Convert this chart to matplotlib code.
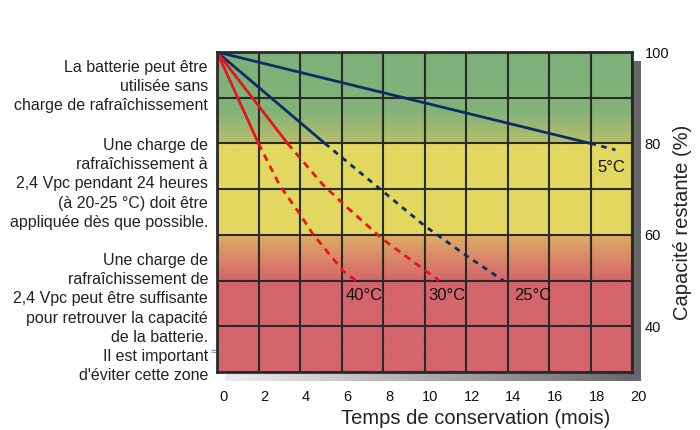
import numpy as np
import matplotlib
matplotlib.use("Agg")
import matplotlib.pyplot as plt
import matplotlib.transforms as mtransforms

plt.rcParams['font.family'] = ['Liberation Sans', 'DejaVu Sans']

# Data
x5_solid, y5_solid = [0, 18], [100, 80]
x5_dash, y5_dash = [18, 19.2], [80, 78.6]
x25_solid, y25_solid = [0, 5.2], [100, 80]
x25_dash, y25_dash = [5.2, 8, 10, 12, 13.8], [80, 69.5, 62, 55.5, 50]
x30_solid, y30_solid = [0, 3.4], [100, 80]
x30_dash, y30_dash = [3.4, 5.1, 6.1, 8, 10.7], [80, 71, 66.7, 59, 50]
x40_solid, y40_solid = [0, 2.0], [100, 80]
x40_dash, y40_dash = [2.0, 3, 4, 4.6, 6.1, 6.7], [80, 71, 64.5, 60.3, 52, 50]

temp_labels = ["5°C", "40°C", "30°C", "25°C"]
temp_label_x = [19.0, 7.1, 11.1, 15.2]
temp_label_y = [74.8, 46.8, 46.8, 46.8]

x_ticks = list(range(0, 21, 2))
y_ticks = [40, 60, 80, 100]

zone_texts = [
    "La batterie peut être\nutilisée sans\ncharge de rafraîchissement",
    "Une charge de\nrafraîchissement à\n2,4 Vpc pendant 24 heures\n(à 20-25 °C) doit être\nappliquée dès que possible.",
    "Une charge de\nrafraîchissement de\n2,4 Vpc peut être suffisante\npour retrouver la capacité\nde la batterie.\nIl est important\nd'éviter cette zone",
]
zone_text_top = [60, 138, 253]  # pixel y of block top

W, H = 700, 430
fig = plt.figure(figsize=(7, 4.3), dpi=100)

l, b, w, h = 217 / W, 1 - 372 / H, 415 / W, 320 / H

# drop shadow
sh = fig.add_axes([l + 8 / W, b - 9 / H, w, h], zorder=0)
grad = np.linspace(0, 1, 256)
g1 = np.array([0.93, 0.93, 0.93])
g2 = np.array([0.40, 0.40, 0.40])
shadow = (g1[None, :] * (1 - grad[:, None]) + g2[None, :] * grad[:, None])[None, :, :]
sh.imshow(shadow, aspect='auto', extent=[0, 1, 0, 1])
sh.axis('off')

ax = fig.add_axes([l, b, w, h], zorder=1)

# background zones
stops_y = [30, 50, 59.99, 60.01, 79.99, 80.01, 87, 100]
stops_c = np.array([
    [213, 101, 108],
    [213, 101, 108],
    [221, 172, 100],
    [226, 216, 96],
    [226, 216, 96],
    [185, 190, 105],
    [130, 180, 122],
    [125, 177, 121],
]) / 255.0
yy = np.linspace(30, 100, 700)
bg = np.stack([np.interp(yy, stops_y, stops_c[:, i]) for i in range(3)], axis=1)[::-1]
ax.imshow(bg[:, None, :], aspect='auto', extent=[0, 20, 30, 100], zorder=0)

grid_c = '#2a2a2a'
for gx in x_ticks:
    ax.axvline(gx, color=grid_c, lw=1.5, zorder=1)
for gy in range(30, 101, 10):
    ax.axhline(gy, color=grid_c, lw=1.5, zorder=1)

navy = '#0c2d66'
red = '#e8141e'
ax.plot(x5_solid, y5_solid, color=navy, lw=2, zorder=3)
ax.plot(x5_dash, y5_dash, color=navy, lw=2, ls=(0, (2, 2)), zorder=3)
ax.plot(x25_solid, y25_solid, color=navy, lw=2, zorder=3)
ax.plot(x25_dash, y25_dash, color=navy, lw=2, ls=(0, (2, 2)), zorder=3)
ax.plot(x30_solid, y30_solid, color=red, lw=2, zorder=3)
ax.plot(x30_dash, y30_dash, color=red, lw=2, ls=(0, (2.5, 2)), zorder=3)
ax.plot(x40_solid, y40_solid, color=red, lw=2, zorder=3)
ax.plot(x40_dash, y40_dash, color=red, lw=2, ls=(0, (2.5, 2)), zorder=3)

for t, tx, ty in zip(temp_labels, temp_label_x, temp_label_y):
    ax.text(tx, ty, t, ha='center', va='center', fontsize=12, color='#111111', zorder=4)

ax.text(-0.15, 34.3, "≈", ha='center', va='center', fontsize=8, color='#666666', zorder=4)

ax.set_xlim(0, 20)
ax.set_ylim(30, 100)
ax.set_xticks(x_ticks)
ax.set_yticks(y_ticks)
ax.yaxis.tick_right()
ax.tick_params(length=0, labelsize=10.5, colors='#111111')
ax.tick_params(axis='x', pad=13)
ax.tick_params(axis='y', pad=9)
offset = mtransforms.ScaledTranslation(6 / 100, 0, fig.dpi_scale_trans)
for lab in ax.get_xticklabels():
    lab.set_transform(lab.get_transform() + offset)
for sp in ax.spines.values():
    sp.set_color(grid_c)
    sp.set_linewidth(2)
    sp.set_zorder(5)

# axis titles (placed where the reference has them)
fig.text(476 / W, 1 - 418 / H, "Temps de conservation (mois)", ha='center', va='center',
         fontsize=14.5, color='#222222')
fig.text(683 / W, 1 - 222 / H, "Capacité restante (%)", ha='center', va='center',
         rotation=90, fontsize=14.5, color='#222222')

for txt, ty in zip(zone_texts, zone_text_top):
    fig.text(208 / W, 1 - ty / H, txt, ha='right', va='top', fontsize=11.5,
             color='#222222', linespacing=1.35)

fig.savefig("out.png", dpi=100)
